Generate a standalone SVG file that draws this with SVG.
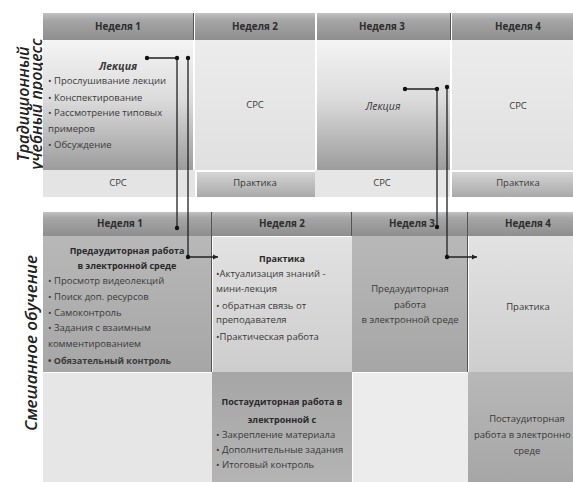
<svg xmlns="http://www.w3.org/2000/svg" width="573" height="482" viewBox="0 0 573 482">
<defs>
<linearGradient id="gHdr" x1="0" y1="0" x2="0" y2="1"><stop offset="0" stop-color="#c2c2c2"/><stop offset="0.25" stop-color="#a6a6a6"/><stop offset="1" stop-color="#8e8e8e"/></linearGradient>
<linearGradient id="gLec" x1="0" y1="0" x2="0" y2="1"><stop offset="0" stop-color="#f4f4f4"/><stop offset="0.45" stop-color="#dcdcdc"/><stop offset="1" stop-color="#9c9c9c"/></linearGradient>
<linearGradient id="gLight" x1="0" y1="0" x2="0" y2="1"><stop offset="0" stop-color="#ececec"/><stop offset="1" stop-color="#e0e0e0"/></linearGradient>
<linearGradient id="gPr" x1="0" y1="0" x2="0" y2="1"><stop offset="0" stop-color="#d4d4d4"/><stop offset="1" stop-color="#a9a9a9"/></linearGradient>
<linearGradient id="gMid" x1="0" y1="0" x2="0" y2="1"><stop offset="0" stop-color="#b8b8b8"/><stop offset="1" stop-color="#a6a6a6"/></linearGradient>
<linearGradient id="gMid2" x1="0" y1="0" x2="0" y2="1"><stop offset="0" stop-color="#a6a6a6"/><stop offset="1" stop-color="#b4b4b4"/></linearGradient>
<linearGradient id="gPale" x1="0" y1="0" x2="0" y2="1"><stop offset="0" stop-color="#e2e2e2"/><stop offset="1" stop-color="#cdcdcd"/></linearGradient>
<marker id="arr" markerWidth="6" markerHeight="6" refX="5" refY="3" orient="auto" markerUnits="userSpaceOnUse"><path d="M0,0.5 L5,3 L0,5.5 Z" fill="#222"/></marker>
</defs>
<style>
text{font-family:"Open Sans","Liberation Sans",sans-serif;font-size:9.5px;fill:#3a3a3a}
.h{font-weight:bold;font-size:9.8px;text-anchor:middle;fill:#2e2e2e}
.c{text-anchor:middle}
.b{font-weight:bold;font-size:9px}
.bc{font-weight:bold;font-size:9px;text-anchor:middle;fill:#2a2a2a}
.lec{font-size:10.5px;font-style:italic;text-anchor:middle}
.side{font-family:"Open Sans","Liberation Sans",sans-serif;font-style:italic;font-weight:600;font-size:16px;fill:#222;text-anchor:middle}
.sep{stroke:#555;stroke-width:1}
.ln{stroke:#222;stroke-width:1.3;fill:none}
.dot{fill:#111}
</style>
<rect width="573" height="482" fill="#ffffff"/>

<text class="side" transform="translate(29,104) rotate(-90)">Традиционный</text>
<text class="side" transform="translate(42,104) rotate(-90)">учебный процесс</text>
<text class="side" style="font-size:17px" transform="translate(37,343) rotate(-90)">Смешанное обучение</text>

<g id="trad-week1">
<rect x="43" y="13" width="150" height="27" fill="url(#gHdr)"/>
<text class="h" x="118" y="30">Неделя 1</text>
<rect x="43" y="40" width="150" height="130" fill="url(#gLec)"/>
<text class="lec" x="118" y="70" font-weight="bold" fill="#2a2a2a">Лекция</text>
<text x="48" y="84">• Прослушивание лекции</text>
<text x="48" y="101">• Конспектирование</text>
<text x="48" y="116">• Рассмотрение типовых</text>
<text x="48" y="132">примеров</text>
<text x="48" y="148">• Обсуждение</text>
<rect x="43" y="170" width="152" height="27" fill="#e4e4e4"/>
<text class="c" x="118" y="186">СРС</text>
</g>

<g id="trad-week2">
<rect x="195" y="13" width="120" height="27" fill="url(#gHdr)"/>
<text class="h" x="255" y="30">Неделя 2</text>
<rect x="195" y="40" width="120" height="130" fill="url(#gLight)"/>
<text class="c" x="255" y="108">СРС</text>
<rect x="197" y="172" width="118" height="25" fill="url(#gPr)"/>
<text class="c" x="255" y="186">Практика</text>
</g>

<g id="trad-week3">
<rect x="317" y="13" width="133" height="27" fill="url(#gHdr)"/>
<text class="h" x="382" y="30">Неделя 3</text>
<rect x="317" y="40" width="133" height="130" fill="url(#gLec)"/>
<text class="lec" x="383" y="110">Лекция</text>
<rect x="315" y="170" width="135" height="27" fill="#e6e6e6"/>
<text class="c" x="382" y="186">СРС</text>
</g>

<g id="trad-week4">
<rect x="452" y="13" width="121" height="27" fill="url(#gHdr)"/>
<text class="h" x="518" y="30">Неделя 4</text>
<rect x="452" y="40" width="121" height="130" fill="url(#gLight)"/>
<text class="c" x="518" y="109">СРС</text>
<rect x="452" y="172" width="121" height="25" fill="url(#gPr)"/>
<text class="c" x="518" y="186">Практика</text>
</g>

<g id="blend-week1">
<rect x="43" y="212" width="169" height="24" fill="url(#gHdr)"/>
<text class="h" x="120" y="227">Неделя 1</text>
<rect x="43" y="236" width="169" height="136" fill="url(#gMid)"/>
<text class="bc" x="127" y="254">Предаудиторная работа</text>
<text class="bc" x="127" y="269">в электронной среде</text>
<text x="48" y="284">• Просмотр видеолекций</text>
<text x="48" y="300">• Поиск доп. ресурсов</text>
<text x="48" y="316">• Самоконтроль</text>
<text x="48" y="331">• Задания с взаимным</text>
<text x="48" y="347">комментированием</text>
<text class="b" x="48" y="364" fill="#2a2a2a">• Обязательный контроль</text>
<rect x="43" y="373" width="169" height="109" fill="#e6e6e6"/>
</g>

<g id="blend-week2">
<rect x="212" y="212" width="140" height="24" fill="url(#gHdr)"/>
<text class="h" x="282" y="227">Неделя 2</text>
<rect x="213" y="237" width="139" height="135" fill="url(#gPale)"/>
<text class="bc" x="282" y="262">Практика</text>
<text x="216" y="277">•Актуализация знаний -</text>
<text x="216" y="292">мини-лекция</text>
<text x="216" y="309">• обратная связь от</text>
<text x="216" y="323">преподавателя</text>
<text x="216" y="340">•Практическая работа</text>
<rect x="212" y="372" width="140" height="110" fill="url(#gMid2)"/>
<text class="bc" x="282" y="405">Постаудиторная работа в</text>
<text class="bc" x="282" y="423">электронной с</text>
<text x="216" y="438">• Закрепление материала</text>
<text x="216" y="453">• Дополнительные задания</text>
<text x="216" y="468">• Итоговый контроль</text>
</g>

<g id="blend-week3">
<rect x="352" y="212" width="116" height="24" fill="url(#gHdr)"/>
<text class="h" x="412" y="227">Неделя 3</text>
<rect x="352" y="236" width="116" height="136" fill="url(#gMid)"/>
<text class="c" x="410" y="292">Предаудиторная</text>
<text class="c" x="410" y="308">работа</text>
<text class="c" x="410" y="323">в электронной среде</text>
<rect x="353" y="373" width="115" height="109" fill="#ececec"/>
</g>

<g id="blend-week4">
<rect x="468" y="212" width="105" height="24" fill="url(#gHdr)"/>
<text class="h" x="528" y="227">Неделя 4</text>
<rect x="469" y="236" width="104" height="136" fill="url(#gPale)"/>
<text class="c" x="528" y="310">Практика</text>
<rect x="468" y="372" width="105" height="110" fill="url(#gMid)"/>
<text class="c" x="527" y="422">Постаудиторная</text>
<text x="474" y="438">работа в электронно</text>
<text class="c" x="527" y="454">среде</text>
</g>

<g id="separators">
<line class="sep" x1="193.5" y1="13" x2="193.5" y2="40"/>
<line class="sep" x1="450.5" y1="13" x2="450.5" y2="40"/>
<line class="sep" x1="211.5" y1="212" x2="211.5" y2="372"/>
<line class="sep" x1="351.5" y1="212" x2="351.5" y2="236"/>
<line class="sep" x1="467.5" y1="212" x2="467.5" y2="372"/>
</g>

<g id="connectors">
<path class="ln" d="M147,58 H177 V228"/>
<path class="ln" d="M188,58 V257 H218" marker-end="url(#arr)"/>
<circle class="dot" cx="147" cy="58" r="2.2"/>
<circle class="dot" cx="177" cy="58" r="2.2"/>
<circle class="dot" cx="188" cy="58" r="2.2"/>
<circle class="dot" cx="177" cy="228" r="2.2"/>
<circle class="dot" cx="188" cy="257" r="2.2"/>
<path class="ln" d="M405,89 H437 V227"/>
<path class="ln" d="M447,87 V257 H477" marker-end="url(#arr)"/>
<circle class="dot" cx="405" cy="89" r="2.2"/>
<circle class="dot" cx="437" cy="89" r="2.2"/>
<circle class="dot" cx="447" cy="87" r="2.2"/>
<circle class="dot" cx="437" cy="227" r="2.2"/>
<circle class="dot" cx="447" cy="257" r="2.2"/>
</g>
</svg>
